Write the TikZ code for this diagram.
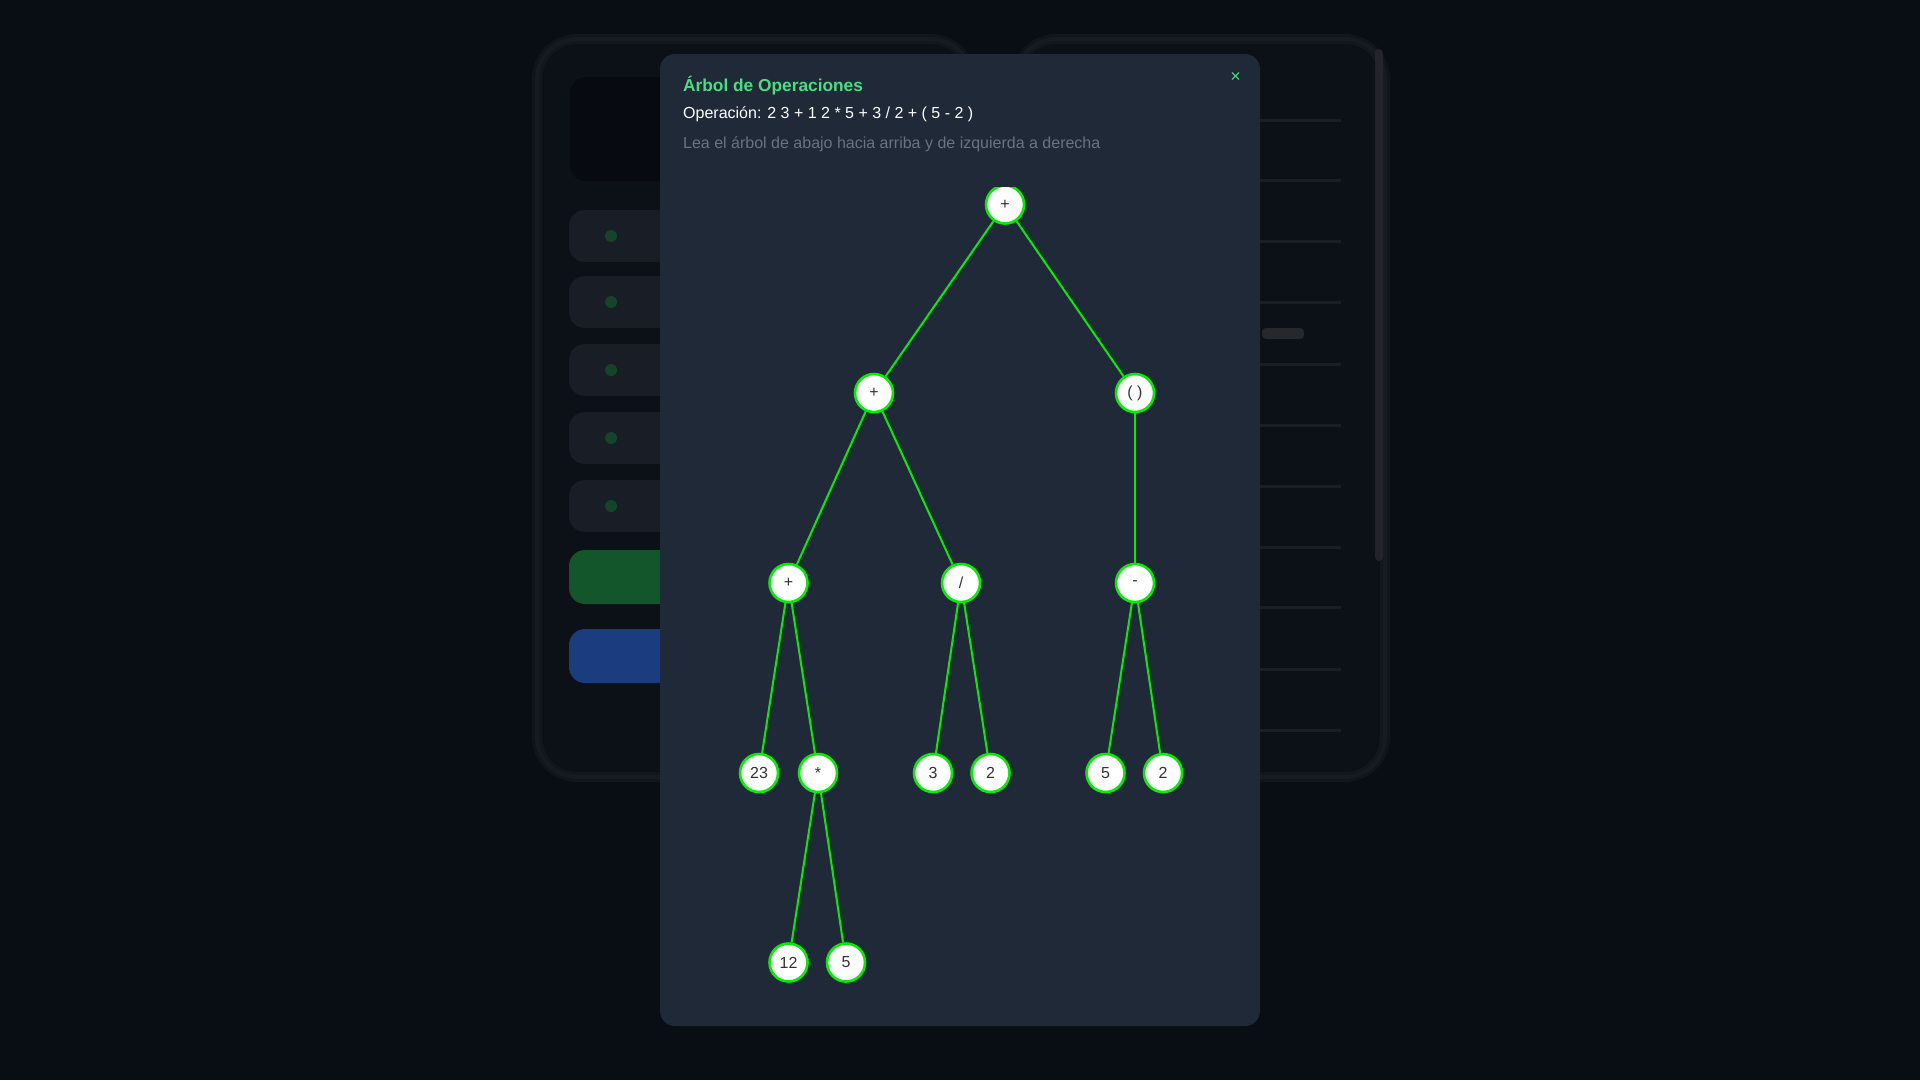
\documentclass[tikz,border=0pt]{standalone}
\usepackage{fontspec}
\setmainfont{Liberation Sans}
\usepackage{xcolor}
\definecolor{pagebg}{RGB}{9, 13, 20}
\definecolor{panelbg}{RGB}{15, 19, 26}
\definecolor{panelrim}{RGB}{22, 26, 33}
\definecolor{buttonbg}{RGB}{25, 29, 37}
\definecolor{deepbox}{RGB}{7, 10, 16}
\definecolor{fadedgreen}{RGB}{19, 86, 43}
\definecolor{fadedblue}{RGB}{27, 60, 126}
\definecolor{modalbg}{RGB}{31, 41, 55}
\definecolor{titlegreen}{RGB}{74, 222, 128}
\definecolor{hintgray}{RGB}{107, 114, 128}
\definecolor{treegreen}{RGB}{0, 240, 0}
\definecolor{labelgray}{RGB}{51, 51, 51}

\begin{document}
\begin{tikzpicture}[x=1pt, y=-1pt,
    opnode/.style={circle, draw=treegreen, line width=2.6pt, fill=white, minimum size=38pt, inner sep=0pt, text=labelgray, font=\fontsize{16}{16}\selectfont},
    treeedge/.style={draw=treegreen, line width=2pt}]
            % Page
            \fill[pagebg] (0,0) rectangle (1920,1080);
            \useasboundingbox (0,0) rectangle (1920,1080);

            % Blurred left panel
            \draw[panelrim, line width=10pt, rounded corners=40pt, fill=panelbg, opacity=0.6] (537,39) rectangle (971,777);
            \draw[panelrim, line width=4pt, rounded corners=40pt] (537,39) rectangle (971,777);
            \fill[deepbox, rounded corners=16pt] (570,77) rectangle (700,181);
            \foreach \y in {236,302,370,438,506}
                \fill[buttonbg, rounded corners=16pt] (569,\y-26) rectangle (700,\y+26);
            \foreach \y in {236,302,370,438,506}
                \fill[fadedgreen!70!buttonbg] (611,\y) circle (6pt);
            \fill[fadedgreen, rounded corners=16pt] (569,550) rectangle (700,604);
            \fill[fadedblue, rounded corners=16pt] (569,629) rectangle (700,683);

            % Blurred right panel
            \draw[panelrim, line width=10pt, rounded corners=40pt, fill=panelbg, opacity=0.6] (1016,39) rectangle (1385,777);
            \draw[panelrim, line width=4pt, rounded corners=40pt] (1016,39) rectangle (1385,777);
            \foreach \y in {120,180,241,302,364,425,486,547,607,669,730}
                \draw[panelrim!85!gray, line width=3pt, opacity=0.6] (1040,\y) -- (1341,\y);
            \fill[panelrim!85!gray, rounded corners=4pt, opacity=0.8] (1375,49) rectangle (1383,561);
            \fill[gray!20!panelbg, rounded corners=4pt] (1262,328) rectangle (1304,339);

            % Modal
            \fill[modalbg, rounded corners=15pt] (660,54) rectangle (1260,1026);
            \node[anchor=base west, text=titlegreen, font=\fontsize{17.3}{17.3}\selectfont\bfseries, inner sep=0pt] (title) at (683,91) {Árbol de Operaciones};
            \node[anchor=base west, text=white, font=\fontsize{16}{16}\selectfont, inner sep=0pt] (expr) at (683,118) {Operación: 2 3 + 1 2 * 5 + 3 / 2 + ( 5 - 2 )};
            \node[anchor=base west, text=hintgray, font=\fontsize{16}{16}\selectfont, inner sep=0pt] (hint) at (683,148) {Lea el árbol de abajo hacia arriba y de izquierda a derecha};
            \node[text=titlegreen, font=\fontsize{18}{18}\selectfont, inner sep=0pt] (close) at (1235.5,77) {×};

            % Tree
            \begin{scope}
            \clip (660,187) rectangle (1260,1026);
            \node[opnode] (root) at (1005,204.5) {+};
            \node[opnode] (sumA) at (874,393) {+};
            \node[opnode] (paren) at (1135,393) {( )};
            \node[opnode] (sumB) at (788.5,583) {+};
            \node[opnode] (divide) at (961,583) {/};
            \node[opnode] (minus) at (1135,583) {-};
            \node[opnode] (n23) at (759,773) {23};
            \node[opnode] (times) at (818,773) {*};
            \node[opnode] (n3) at (933,773) {3};
            \node[opnode] (n2a) at (990.5,773) {2};
            \node[opnode] (n5a) at (1105.5,773) {5};
            \node[opnode] (n2b) at (1163,773) {2};
            \node[opnode] (n12) at (788.5,962.5) {12};
            \node[opnode] (n5b) at (846,962.5) {5};

            % Edges
            \draw[treeedge] (root) -- (sumA);
            \draw[treeedge] (root) -- (paren);
            \draw[treeedge] (sumA) -- (sumB);
            \draw[treeedge] (sumA) -- (divide);
            \draw[treeedge] (paren) -- (minus);
            \draw[treeedge] (sumB) -- (n23);
            \draw[treeedge] (sumB) -- (times);
            \draw[treeedge] (divide) -- (n3);
            \draw[treeedge] (divide) -- (n2a);
            \draw[treeedge] (minus) -- (n5a);
            \draw[treeedge] (minus) -- (n2b);
            \draw[treeedge] (times) -- (n12);
            \draw[treeedge] (times) -- (n5b);
            \end{scope}
\end{tikzpicture}
\end{document}
